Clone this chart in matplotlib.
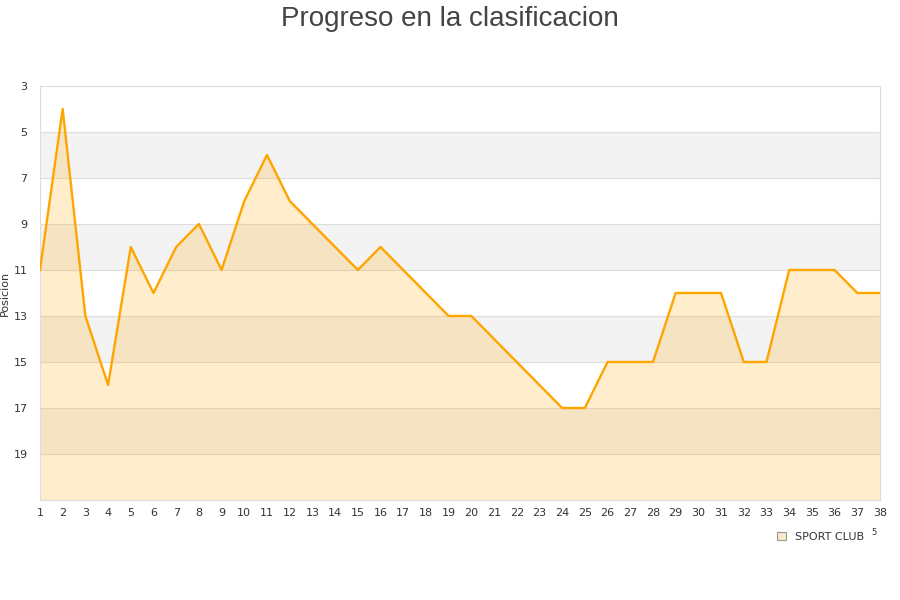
import matplotlib
matplotlib.use("Agg")
import matplotlib.pyplot as plt
import matplotlib.patches as mpatches

# jornada / posicion
jornadas = list(range(1, 39))
posicion = [11, 4, 13, 16, 10, 12, 10, 9, 11, 8,
            6, 8, 9, 10, 11, 10, 11, 12, 13, 13,
            14, 15, 16, 17, 17, 15, 15, 15, 12, 12,
            12, 15, 15, 11, 11, 11, 12, 12]
equipo = "SPORT CLUB"
y_ticks = [3, 5, 7, 9, 11, 13, 15, 17, 19]

LINE_COL = "#ffa500"
BAND_COL = "#f3f3f3"
GRID_COL = "#dddddd"
TEXT_COL = "#333333"

plt.rcParams["font.family"] = "DejaVu Sans"

fig = plt.figure(figsize=(9, 6), dpi=100)
ax = fig.add_axes([0.0444, 0.1667, 0.9334, 0.69])

ymin, ymax = 3, 21
# alternating bands
for y0 in range(5, 21, 4):
    ax.axhspan(y0, y0 + 2, color=BAND_COL, zorder=0, lw=0)
for y in y_ticks[1:]:
    ax.axhline(y, color=GRID_COL, lw=0.8, zorder=1)

ax.fill_between(jornadas, posicion, ymax, color=LINE_COL, alpha=0.2, lw=0, zorder=2)
ax.plot(jornadas, posicion, color=LINE_COL, lw=1.7, zorder=3)

ax.set_xlim(1, 38)
ax.set_ylim(ymax, ymin)
ax.set_xticks(jornadas)
ax.set_yticks(y_ticks)
ax.tick_params(length=0, labelsize=8, colors=TEXT_COL, pad=6)
ax.tick_params(axis="y", pad=9)
for s in ax.spines.values():
    s.set_color(GRID_COL)
    s.set_linewidth(0.8)

ax.set_ylabel("Posicion", fontsize=8, color=TEXT_COL)
ax.yaxis.set_label_coords(-0.036, 0.5)
fig.suptitle("Progreso en la clasificacion", fontsize=20, color="#444444", y=0.99,
             family="Liberation Sans")

handle = mpatches.Patch(facecolor="#fde9c8", edgecolor="#999999", linewidth=0.8, label=equipo)
fig.legend(handles=[handle], loc="center left", bbox_to_anchor=(0.852, 0.105),
           frameon=False, fontsize=8, handlelength=0.8, handleheight=0.8,
           handletextpad=0.8, labelcolor=TEXT_COL)
fig.text(0.971, 0.112, "5", fontsize=6, color=TEXT_COL, ha="center", va="center")

fig.savefig("out.png", dpi=100)
